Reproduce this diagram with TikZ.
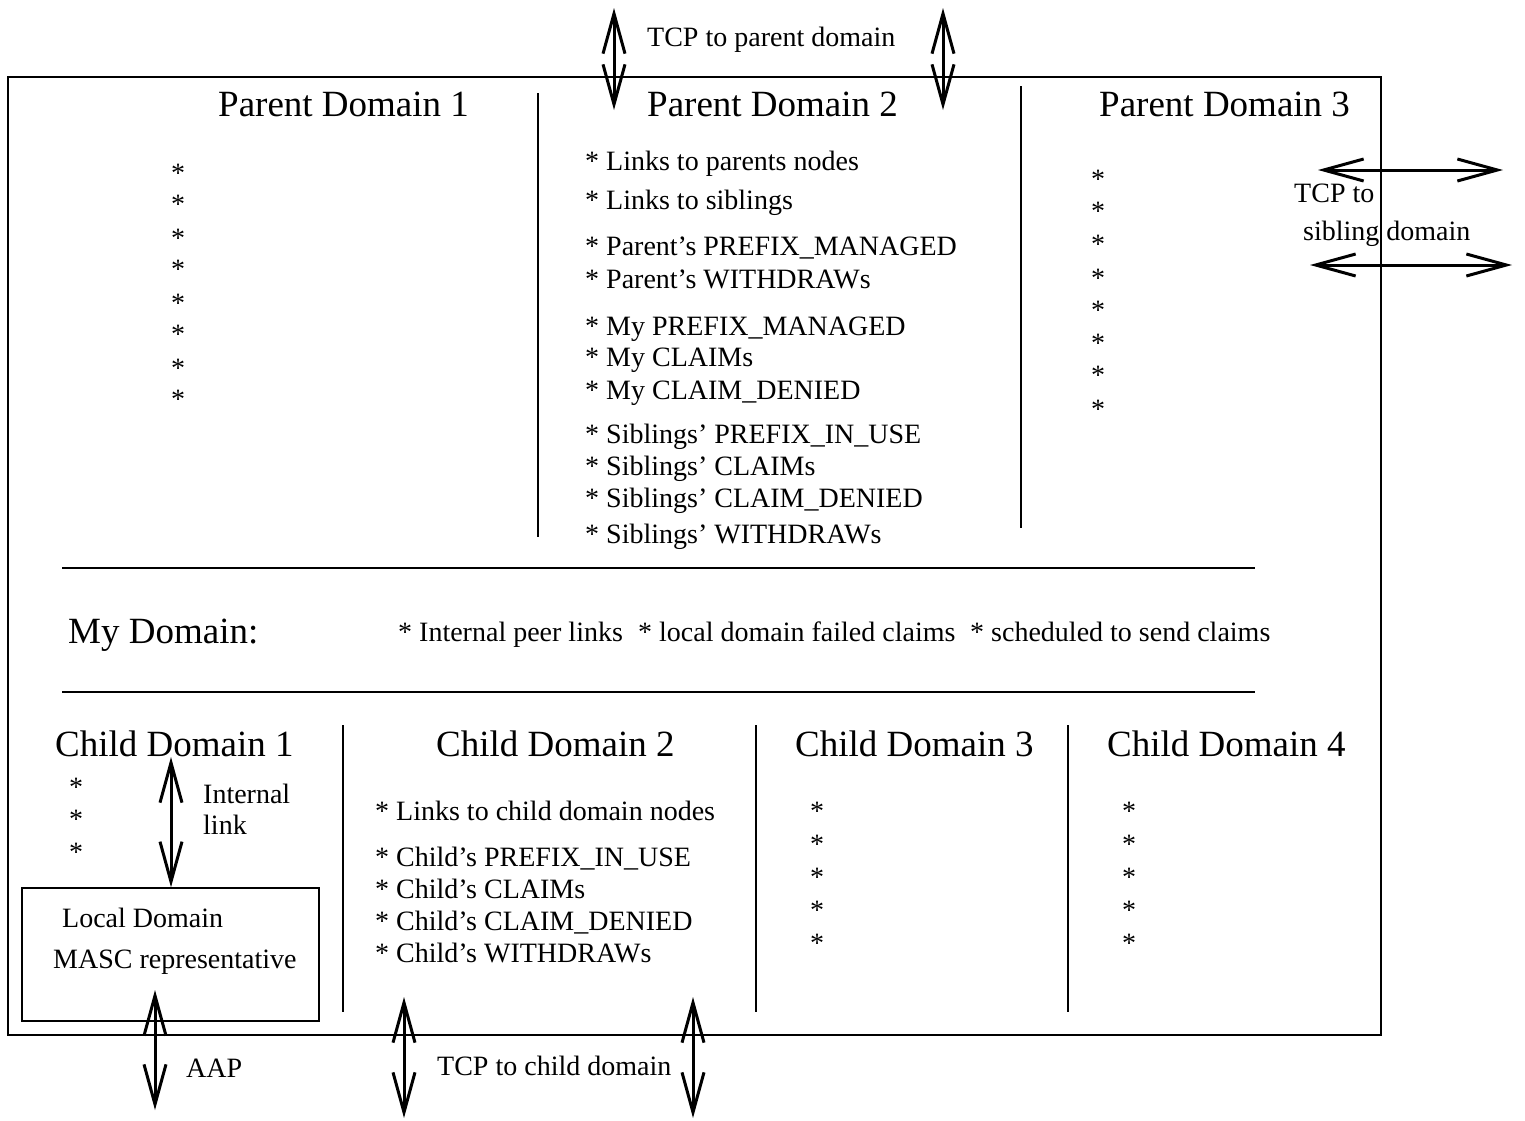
\documentclass[tikz,border=0pt]{standalone}
\usepackage{fontspec}
\setmainfont{Liberation Serif}
\usetikzlibrary{arrows.meta}
\tikzset{
  sm/.style={font=\fontsize{28}{32}\selectfont, inner sep=0pt, anchor=base west},
  lg/.style={font=\fontsize{37}{42}\selectfont, inner sep=0pt, anchor=base west},
  starnode/.style={font=\fontsize{28}{32}\selectfont, inner sep=0pt, anchor=base},
  thinline/.style={line width=1.4pt},
  dbl/.style={line width=3pt, {Straight Barb[length=40pt,width=22pt]}-{Straight Barb[length=40pt,width=22pt]}},
  boxstyle/.style={draw, line width=1.4pt, inner sep=0pt, minimum width=297pt, minimum height=133pt}
}
\begin{document}
\begin{tikzpicture}[x=1pt,y=-1pt]
\useasboundingbox (0,0) rectangle (1525,1120);
% structure
\draw[thinline] (8,77) rectangle (1381,1035);
\draw[thinline] (538,93) -- (538,537);
\draw[thinline] (1021,86) -- (1021,528);
\draw[thinline] (62,568) -- (1255,568);
\draw[thinline] (62,692) -- (1255,692);
\draw[thinline] (343,725) -- (343,1012);
\draw[thinline] (756,725) -- (756,1012);
\draw[thinline] (1068,725) -- (1068,1012);
\node[boxstyle] (ld) at (170.5,954.5) {};

% arrows
\coordinate (pA1) at (614,8);   \coordinate (pA2) at (614,110);
\coordinate (pB1) at (943,8);   \coordinate (pB2) at (943,110);
\coordinate (sA1) at (1318,170); \coordinate (sA2) at (1503,170);
\coordinate (sB1) at (1310,265); \coordinate (sB2) at (1512,265);
\coordinate (il) at (171,757);
\coordinate (aap1) at (155,990); \coordinate (aap2) at (155,1110);
\coordinate (cA1) at (404,997); \coordinate (cA2) at (404,1118);
\coordinate (cB1) at (693,997); \coordinate (cB2) at (693,1118);
\draw[dbl] (pA1) -- (pA2);
\draw[dbl] (pB1) -- (pB2);
\draw[dbl] (sA1) -- (sA2);
\draw[dbl] (sB1) -- (sB2);
\draw[dbl] (il) -- (il |- ld.north);
\draw[dbl] (aap1) -- (aap2);
\draw[dbl] (cA1) -- (cA2);
\draw[dbl] (cB1) -- (cB2);

% top labels
\node[sm] (tcpp) at (647,46) {TCP to parent domain};
\node[lg] (pd1) at (218,116) {Parent Domain 1};
\node[lg] (pd2) at (647,116) {Parent Domain 2};
\node[lg] (pd3) at (1099,116) {Parent Domain 3};

% PD2 list
\node[sm] (l1) at (585,170) {* Links to parents nodes};
\node[sm] (l2) at (585,209) {* Links to siblings};
\node[sm] (l3) at (585,255) {* Parent's PREFIX\_MANAGED};
\node[sm] (l4) at (585,288) {* Parent's WITHDRAWs};
\node[sm] (l5) at (585,335) {* My PREFIX\_MANAGED};
\node[sm] (l6) at (585,366) {* My CLAIMs};
\node[sm] (l7) at (585,399) {* My CLAIM\_DENIED};
\node[sm] (l8) at (585,443) {* Siblings' PREFIX\_IN\_USE};
\node[sm] (l9) at (585,475) {* Siblings' CLAIMs};
\node[sm] (l10) at (585,507) {* Siblings' CLAIM\_DENIED};
\node[sm] (l11) at (585,543) {* Siblings' WITHDRAWs};

% PD1 stars
\foreach \y [count=\i] in {167,198,232,263,297,328,362,393}
  \node[starnode] (pa\i) at (178,\y+15) {*};
% PD3 stars
\foreach \y [count=\i] in {173,205,238,272,304,337,369,403}
  \node[starnode] (pc\i) at (1098,\y+15) {*};

% sibling label
\node[sm] (ts1) at (1294,202) {TCP to};
\node[sm] (ts2) at (1303,240) {sibling domain};

% my domain
\node[lg] (md) at (68,643) {My Domain:};
\node[sm] (m1) at (398,641) {* Internal peer links};
\node[sm] (m2) at (638,641) {* local domain failed claims};
\node[sm] (m3) at (970,641) {* scheduled to send claims};

% child domains
\node[lg] (cd1) at (55,756) {Child Domain 1};
\node[lg] (cd2) at (436,756) {Child Domain 2};
\node[lg] (cd3) at (795,756) {Child Domain 3};
\node[lg] (cd4) at (1107,756) {Child Domain 4};

\foreach \y [count=\i] in {781,813,846}
  \node[starnode] (ca\i) at (76,\y+15) {*};
\node[sm] (int1) at (203,803) {Internal};
\node[sm] (int2) at (203,834) {link};
\node[sm] (ldt1) at (62,927) {Local Domain};
\node[sm] (ldt2) at (53,968) {MASC representative};
\node[sm] (aapt) at (186,1077) {AAP};

\node[sm] (c1) at (375,820) {* Links to child domain nodes};
\node[sm] (c2) at (375,866) {* Child's PREFIX\_IN\_USE};
\node[sm] (c3) at (375,898) {* Child's CLAIMs};
\node[sm] (c4) at (375,930) {* Child's CLAIM\_DENIED};
\node[sm] (c5) at (375,962) {* Child's WITHDRAWs};

\foreach \y [count=\i] in {805,838,871,904,937} {
  \node[starnode] (cc\i) at (817,\y+15) {*};
  \node[starnode] (cdd\i) at (1129,\y+15) {*};
}
\node[sm] (tcpc) at (437,1075) {TCP to child domain};
\end{tikzpicture}
\end{document}
